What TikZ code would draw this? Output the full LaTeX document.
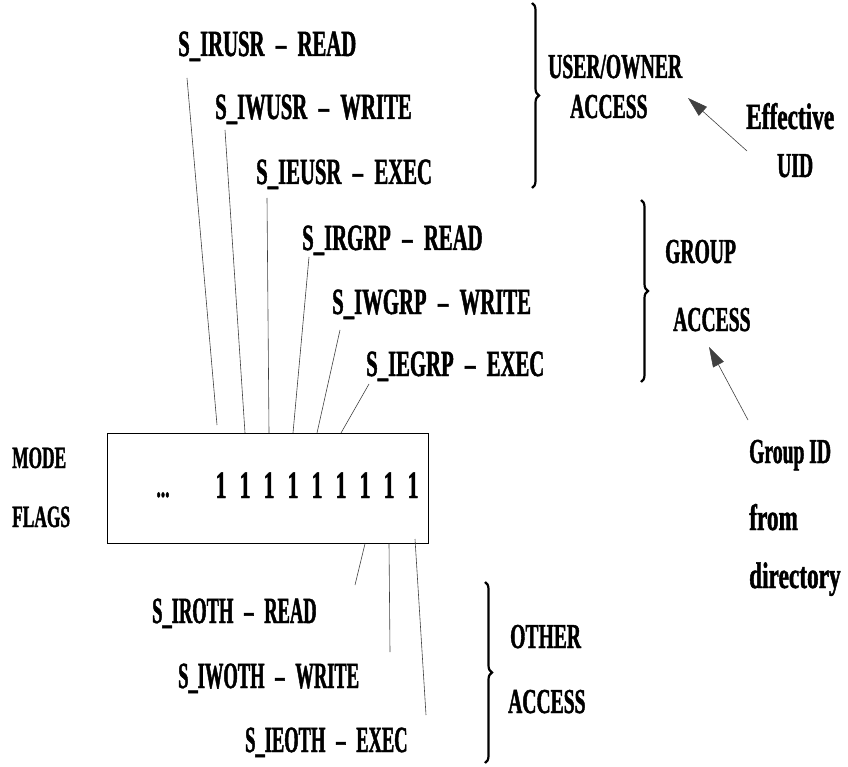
\documentclass[tikz,border=0pt]{standalone}
\usepackage{fontspec}
\newfontfamily\condfont{Liberation Serif}[FakeStretch=0.56, FakeBold=1.2]
\newfontfamily\narrowfont{Liberation Serif}[FakeStretch=0.50, FakeBold=1.2]
\newfontfamily\widefont{Liberation Serif}[FakeStretch=0.63, FakeBold=1.2]
\usetikzlibrary{arrows.meta, positioning, decorations.pathreplacing}

\begin{document}
\begin{tikzpicture}[
    x=1pt, y=-1pt,
    perm/.style={font=\condfont\bfseries\fontsize{37}{37}\selectfont, inner sep=0pt, anchor=base west},
    other_perm/.style={perm, font=\narrowfont\bfseries\fontsize{37}{37}\selectfont},
    side/.style={perm, font=\condfont\bfseries\fontsize{35}{35}\selectfont},
    source/.style={perm, font=\widefont\bfseries\fontsize{37}{37}\selectfont},
    small_side/.style={perm, font=\condfont\bfseries\fontsize{31}{31}\selectfont},
    bit/.style={perm, anchor=base, font=\condfont\bfseries\fontsize{39}{39}\selectfont},
    lead/.style={draw=black!75, line width=0.6pt},
    pointer/.style={draw=black!75, line width=0.6pt, -{Triangle[length=20pt,width=12pt]}},
    access_brace/.style={decorate, decoration={brace, amplitude=7pt}, line width=2.2pt}
]
    \useasboundingbox (0,0) rectangle (848,767);

    % MODE FLAGS BOX
    \node[small_side] (mode) at (12,468) {MODE};
    \node[small_side] (flags) at (12,527) {FLAGS};
    \node[draw, line width=0.7pt, minimum width=321pt, minimum height=110pt, anchor=north west] (box) at (107,433) {};
    \node[small_side, anchor=base] (dots) at (163,497) {...};
    \foreach \i in {1,...,9}
        \node[bit] (b\i) at ({197+24*\i},498) {1};

    % USER / GROUP PERMISSIONS
    \node[perm] (irusr) at (178,56) {S\_IRUSR \,\textendash\,\ READ};
    \node[perm] (iwusr) at (215,119) {S\_IWUSR \,\textendash\,\ WRITE};
    \node[perm] (ieusr) at (256,184) {S\_IEUSR \,\textendash\,\ EXEC};
    \node[perm] (irgrp) at (302,250) {S\_IRGRP \,\textendash\,\ READ};
    \node[perm] (iwgrp) at (332,314) {S\_IWGRP \,\textendash\,\ WRITE};
    \node[perm] (iegrp) at (366,376) {S\_IEGRP \,\textendash\,\ EXEC};

    \coordinate (t1) at (187,78);
    \coordinate (t2) at (225,130);
    \coordinate (t3) at (267,198);
    \coordinate (t4) at (309,257);
    \coordinate (t5) at (340,330);
    \coordinate (t6) at (369,384);
    \coordinate (e1) at (217,425);

    \draw[lead] (t1) -- (e1);
    \draw[lead] (t2) -- (b2 |- box.north);
    \draw[lead] (t3) -- (b3 |- box.north);
    \draw[lead] (t4) -- (b4 |- box.north);
    \draw[lead] (t5) -- (b5 |- box.north);
    \draw[lead] (t6) -- (b6 |- box.north);

    % OTHER PERMISSIONS
    \node[other_perm] (iroth) at (152,623) {S\_IROTH \,\textendash\,\ READ};
    \node[other_perm] (iwoth) at (178,688) {S\_IWOTH \,\textendash\,\ WRITE};
    \node[other_perm] (ieoth) at (245,752) {S\_IEOTH \,\textendash\,\ EXEC};

    \coordinate (o1) at (355,585);
    \coordinate (o2) at (390,652);
    \coordinate (o3) at (426,715);
    \coordinate (s3) at (415,539);

    \draw[lead] (b7 |- box.south) -- (o1);
    \draw[lead] (b8 |- box.south) -- (o2);
    \draw[lead] (s3) -- (o3);

    % ACCESS CLASSES
    \draw[access_brace] (532,3) -- (532,188);
    \node[side] (user) at (548,78) {USER/OWNER};
    \node[side] (uacc) at (570,118) {ACCESS};

    \draw[access_brace] (641,200) -- (641,382);
    \node[side] (group) at (665,263) {GROUP};
    \node[side] (gacc) at (673,331) {ACCESS};

    \draw[access_brace] (485,582) -- (485,763);
    \node[side] (other) at (510,648) {OTHER};
    \node[side] (oacc) at (508,713) {ACCESS};

    % ID SOURCES
    \node[source] (eff) at (746,129) {Effective};
    \node[side] (uid) at (777,177) {UID};
    \node[side] (gid) at (749,463) {Group ID};
    \node[source] (from) at (749,530) {from};
    \node[source] (dir) at (749,588) {directory};

    \coordinate (uid_tail) at (747,151);
    \coordinate (uid_tip) at (688,98);
    \coordinate (gid_tail) at (748,420);
    \coordinate (gid_tip) at (709,347);

    \draw[pointer] (uid_tail) -- (uid_tip);
    \draw[pointer] (gid_tail) -- (gid_tip);

\end{tikzpicture}
\end{document}
